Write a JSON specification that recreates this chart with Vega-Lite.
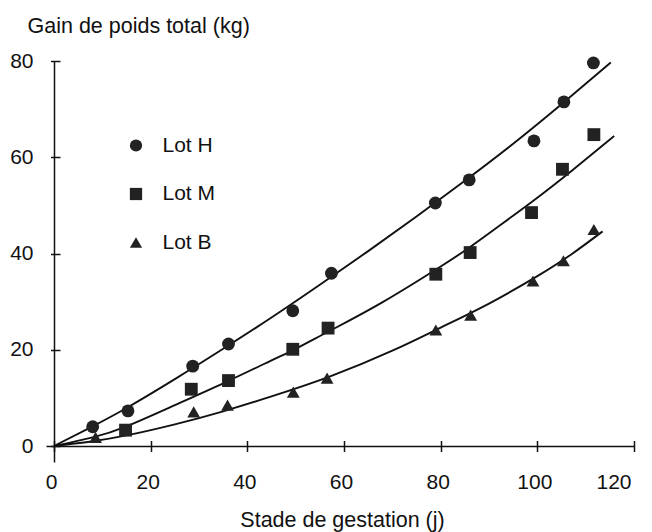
{
  "$schema": "https://vega.github.io/schema/vega-lite/v6.json",
  "width": 588,
  "height": 401,
  "autosize": {"type": "none"},
  "padding": {"left": 46, "top": 61, "right": 18, "bottom": 70},
  "background": "white",
  "config": {"view": {"stroke": null}, "font": "Liberation Sans"},
  "datasets": {
    "curves": [
      {"lot": "Lot H", "jour": 0, "gain": 0},
      {"lot": "Lot H", "jour": 8, "gain": 4.1},
      {"lot": "Lot H", "jour": 15, "gain": 7.9},
      {"lot": "Lot H", "jour": 25, "gain": 13.9},
      {"lot": "Lot H", "jour": 35, "gain": 20.2},
      {"lot": "Lot H", "jour": 45, "gain": 26.7},
      {"lot": "Lot H", "jour": 55, "gain": 33.5},
      {"lot": "Lot H", "jour": 65, "gain": 40.5},
      {"lot": "Lot H", "jour": 75, "gain": 47.7},
      {"lot": "Lot H", "jour": 85, "gain": 55.1},
      {"lot": "Lot H", "jour": 95, "gain": 62.8},
      {"lot": "Lot H", "jour": 105, "gain": 71.0},
      {"lot": "Lot H", "jour": 115.2, "gain": 79.7},
      {"lot": "Lot M", "jour": 0, "gain": 0},
      {"lot": "Lot M", "jour": 8, "gain": 1.8},
      {"lot": "Lot M", "jour": 15, "gain": 4.1},
      {"lot": "Lot M", "jour": 25, "gain": 8.5},
      {"lot": "Lot M", "jour": 36, "gain": 13.5},
      {"lot": "Lot M", "jour": 45, "gain": 17.8},
      {"lot": "Lot M", "jour": 50, "gain": 20.2},
      {"lot": "Lot M", "jour": 57, "gain": 23.9},
      {"lot": "Lot M", "jour": 68, "gain": 29.9},
      {"lot": "Lot M", "jour": 80, "gain": 37.3},
      {"lot": "Lot M", "jour": 86, "gain": 41.3},
      {"lot": "Lot M", "jour": 93, "gain": 46.4},
      {"lot": "Lot M", "jour": 100, "gain": 51.6},
      {"lot": "Lot M", "jour": 107, "gain": 57.1},
      {"lot": "Lot M", "jour": 115.9, "gain": 64.4},
      {"lot": "Lot B", "jour": 0, "gain": 0},
      {"lot": "Lot B", "jour": 8, "gain": 1.0},
      {"lot": "Lot B", "jour": 15, "gain": 2.2},
      {"lot": "Lot B", "jour": 25, "gain": 4.5},
      {"lot": "Lot B", "jour": 35, "gain": 7.2},
      {"lot": "Lot B", "jour": 45, "gain": 10.3},
      {"lot": "Lot B", "jour": 57, "gain": 14.4},
      {"lot": "Lot B", "jour": 70, "gain": 19.8},
      {"lot": "Lot B", "jour": 80, "gain": 24.6},
      {"lot": "Lot B", "jour": 90, "gain": 29.6},
      {"lot": "Lot B", "jour": 100, "gain": 35.3},
      {"lot": "Lot B", "jour": 107, "gain": 39.8},
      {"lot": "Lot B", "jour": 113.5, "gain": 44.6}
    ],
    "points": [
      {"lot": "Lot B", "jour": 8.6, "gain": 1.8},
      {"lot": "Lot B", "jour": 28.9, "gain": 7.1},
      {"lot": "Lot B", "jour": 35.9, "gain": 8.5},
      {"lot": "Lot B", "jour": 49.5, "gain": 11.2},
      {"lot": "Lot B", "jour": 56.5, "gain": 14.1},
      {"lot": "Lot B", "jour": 79.0, "gain": 24.1},
      {"lot": "Lot B", "jour": 86.2, "gain": 27.2},
      {"lot": "Lot B", "jour": 99.1, "gain": 34.3},
      {"lot": "Lot B", "jour": 105.4, "gain": 38.5},
      {"lot": "Lot B", "jour": 111.7, "gain": 45.0},
      {"lot": "Lot M", "jour": 14.8, "gain": 3.3},
      {"lot": "Lot M", "jour": 28.4, "gain": 11.8},
      {"lot": "Lot M", "jour": 36.1, "gain": 13.6},
      {"lot": "Lot M", "jour": 49.4, "gain": 20.1},
      {"lot": "Lot M", "jour": 56.7, "gain": 24.5},
      {"lot": "Lot M", "jour": 79.0, "gain": 35.7},
      {"lot": "Lot M", "jour": 86.1, "gain": 40.2},
      {"lot": "Lot M", "jour": 98.8, "gain": 48.5},
      {"lot": "Lot M", "jour": 105.2, "gain": 57.5},
      {"lot": "Lot M", "jour": 111.7, "gain": 64.7},
      {"lot": "Lot H", "jour": 8.0, "gain": 4.0},
      {"lot": "Lot H", "jour": 15.3, "gain": 7.3},
      {"lot": "Lot H", "jour": 28.7, "gain": 16.6},
      {"lot": "Lot H", "jour": 36.1, "gain": 21.2},
      {"lot": "Lot H", "jour": 49.4, "gain": 28.1},
      {"lot": "Lot H", "jour": 57.4, "gain": 35.9},
      {"lot": "Lot H", "jour": 78.9, "gain": 50.5},
      {"lot": "Lot H", "jour": 85.9, "gain": 55.3},
      {"lot": "Lot H", "jour": 99.3, "gain": 63.4},
      {"lot": "Lot H", "jour": 105.5, "gain": 71.5},
      {"lot": "Lot H", "jour": 111.6, "gain": 79.6}
    ]
  },
  "layer": [
    {
      "data": {"name": "curves"},
      "mark": {"type": "line", "color": "#111111", "strokeWidth": 1.9, "interpolate": "natural"},
      "encoding": {
        "x": {
          "field": "jour", "type": "quantitative",
          "scale": {"domain": [-1.66, 120], "nice": false, "zero": false},
          "axis": {
            "orient": "bottom", "offset": -16, "values": [0, 20, 40, 60, 80, 100, 120],
            "ticks": false, "tickSize": 0, "grid": false,
            "domainColor": "#111111", "domainWidth": 1.5,
            "labelFontSize": 21, "labelColor": "#111111", "labelPadding": 25, "labelOffset": -3,
            "title": "Stade de gestation (j)", "titleFontSize": 21.5, "titleFontWeight": "normal",
            "titleColor": "#111111", "titleX": 296, "titleY": 80.5, "titleBaseline": "alphabetic"
          }
        },
        "y": {
          "field": "gain", "type": "quantitative",
          "scale": {"domain": [-3.32, 80], "nice": false, "zero": false},
          "axis": {
            "orient": "left", "offset": -8, "values": [0, 20, 40, 60, 80],
            "ticks": false, "tickSize": 0, "grid": false,
            "domainColor": "#111111", "domainWidth": 1.5,
            "labelFontSize": 21, "labelColor": "#111111", "labelPadding": 21,
            "title": "Gain de poids total (kg)", "titleFontSize": 21.5, "titleFontWeight": "normal",
            "titleColor": "#111111", "titleAngle": 0, "titleAlign": "left", "titleBaseline": "alphabetic",
            "titleX": -27, "titleY": -29
          }
        },
        "detail": {"field": "lot"}
      }
    },
    {
      "data": {"name": "points"},
      "mark": {"type": "point", "filled": true, "color": "#222222", "opacity": 1, "size": 165},
      "encoding": {
        "x": {
          "field": "jour", "type": "quantitative",
          "axis": {
            "orient": "bottom", "offset": -21.5, "values": [0, 20, 40, 60, 80, 100, 120],
            "domain": false, "labels": false, "grid": false, "title": null,
            "tickSize": 11, "tickWidth": 1.5, "tickColor": "#111111"
          }
        },
        "y": {
          "field": "gain", "type": "quantitative",
          "axis": {
            "orient": "left", "offset": -14, "values": [0, 20, 40, 60, 80],
            "domain": false, "labels": false, "grid": false, "title": null,
            "tickSize": 9.5, "tickWidth": 1.5, "tickColor": "#111111"
          }
        },
        "shape": {
          "field": "lot", "type": "nominal",
          "scale": {"domain": ["Lot H", "Lot M", "Lot B"], "range": ["circle", "square", "triangle-up"]},
          "legend": {
            "orient": "none", "legendX": 79.5, "legendY": 74, "title": null, "padding": 0,
            "labelFontSize": 21, "labelColor": "#111111", "labelFont": "Liberation Sans",
            "symbolSize": 150, "symbolFillColor": "#222222", "symbolStrokeColor": "#222222",
            "rowPadding": 26.5, "labelOffset": 16
          }
        }
      }
    }
  ],
  "resolve": {"axis": {"x": "independent", "y": "independent"}}
}
